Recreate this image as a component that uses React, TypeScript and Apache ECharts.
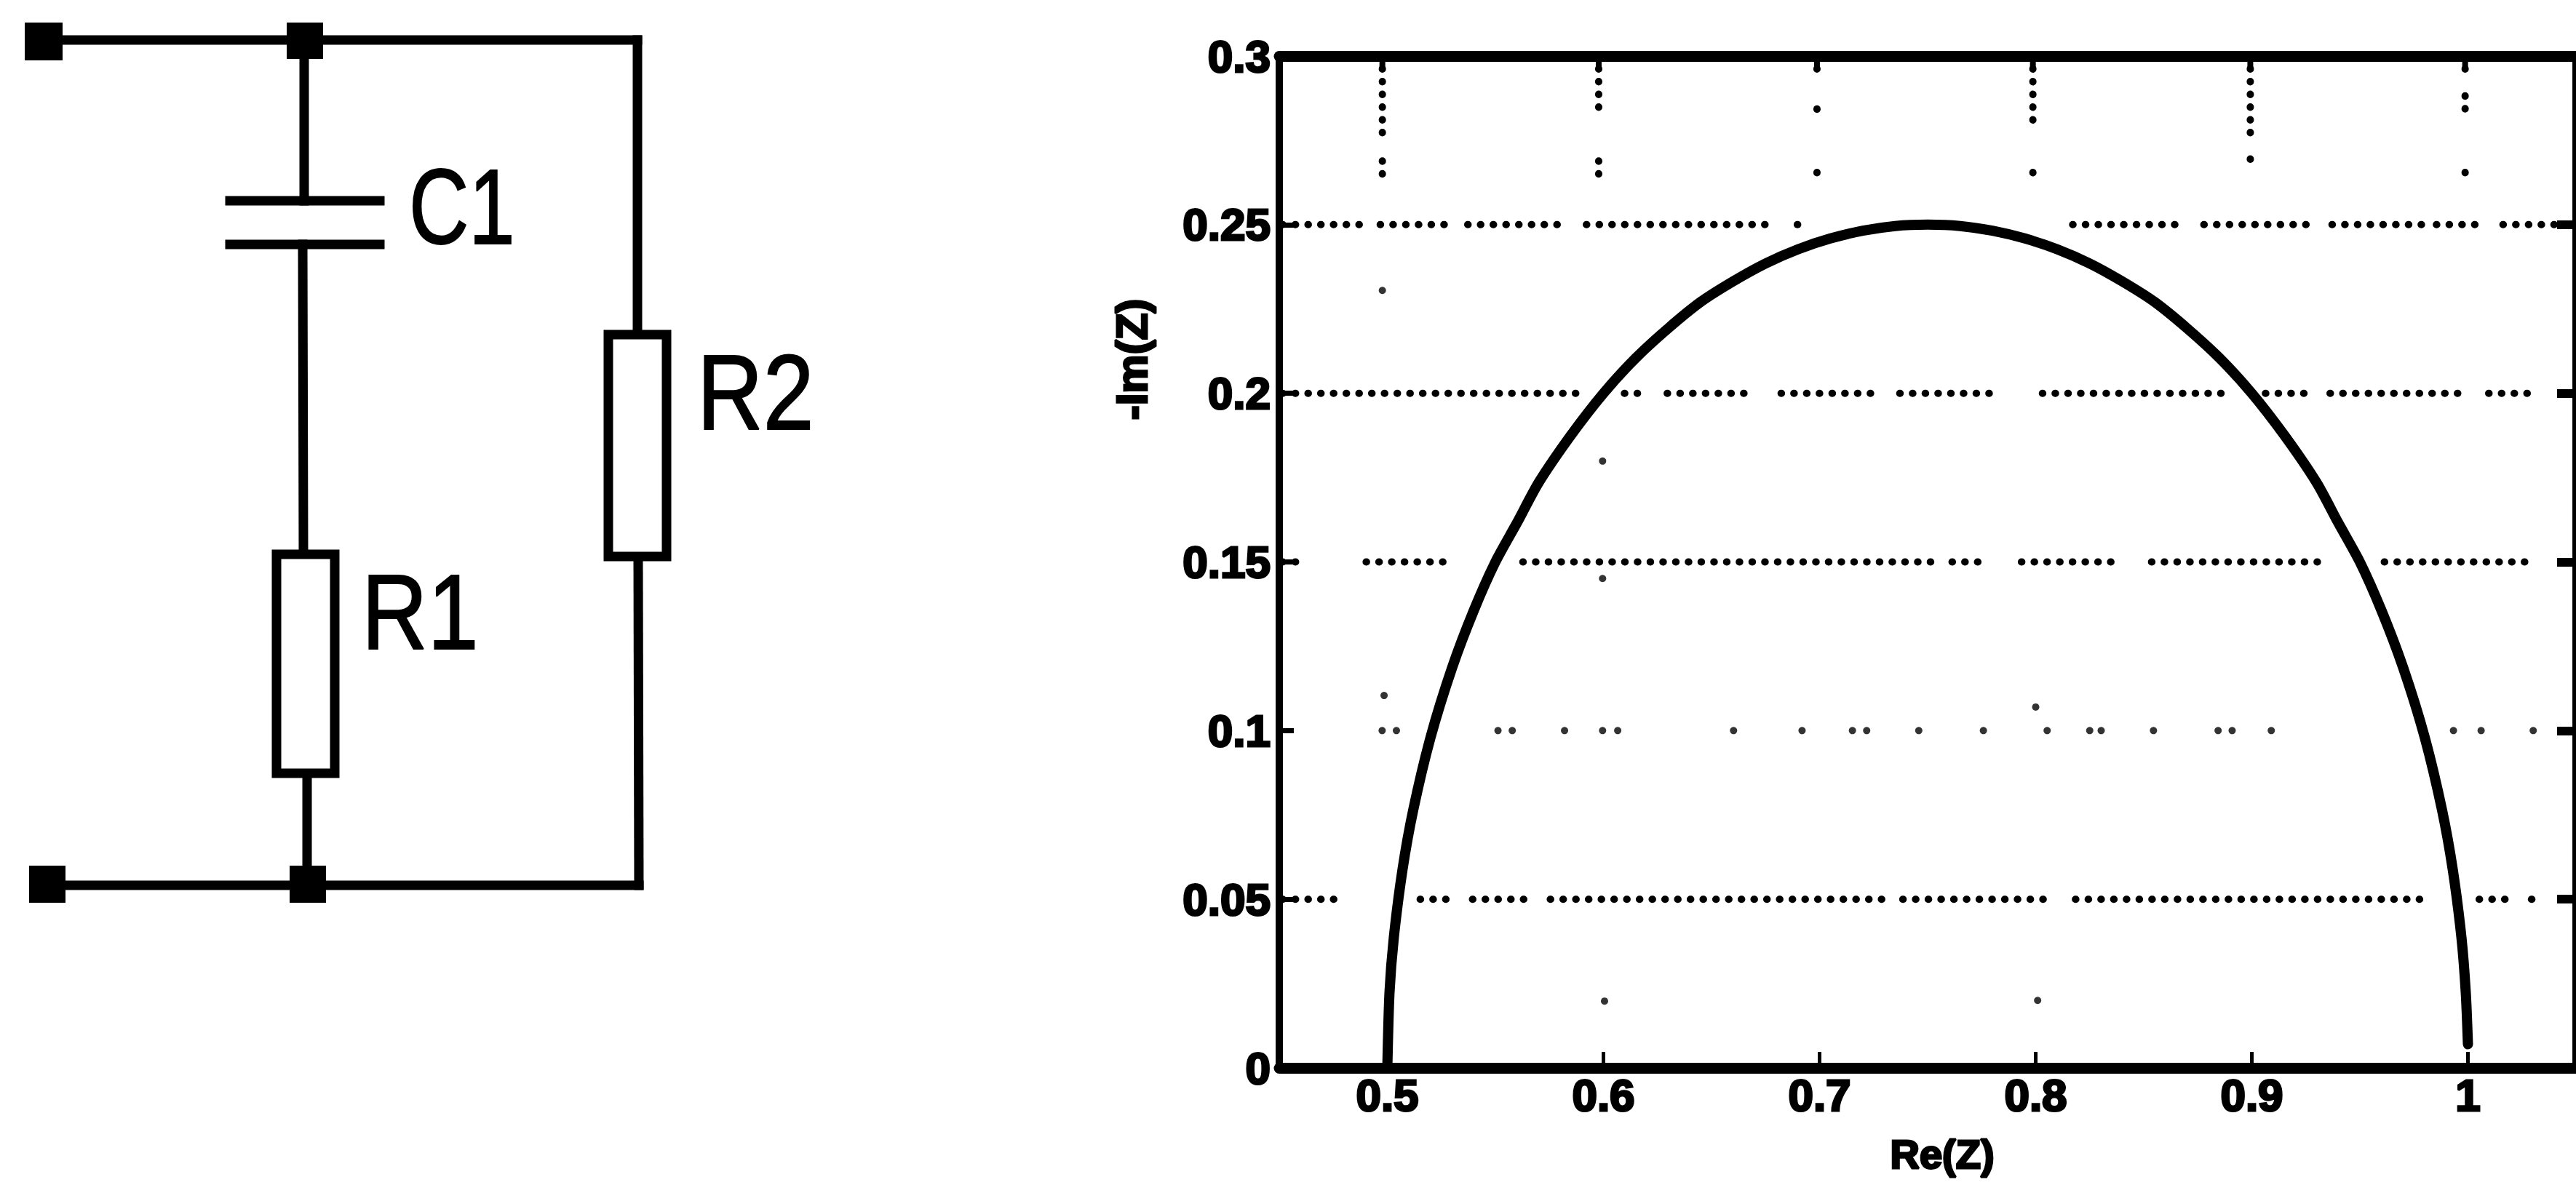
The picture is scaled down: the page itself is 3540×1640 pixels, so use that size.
import React, { useEffect, useRef } from "react";
import * as echarts from "echarts";

const reZ = [0.5, 0.501, 0.503, 0.507, 0.512, 0.52, 0.53, 0.54, 0.55, 0.56, 0.57, 0.585, 0.6, 0.615, 0.63, 0.645, 0.66, 0.675, 0.69, 0.705, 0.72, 0.735, 0.75, 0.765, 0.78, 0.795, 0.81, 0.825, 0.84, 0.855, 0.87, 0.885, 0.9, 0.915, 0.93, 0.94, 0.95, 0.96, 0.97, 0.98, 0.988, 0.993, 0.997, 0.999, 1.0];
const imZ = [0, 0.0223, 0.0386, 0.0587, 0.0765, 0.098, 0.1187, 0.1356, 0.15, 0.1616, 0.1735, 0.1876, 0.2, 0.2105, 0.2193, 0.2271, 0.2332, 0.2385, 0.2427, 0.2459, 0.2482, 0.2496, 0.25, 0.2496, 0.2482, 0.2459, 0.2427, 0.2385, 0.2332, 0.2271, 0.2193, 0.2105, 0.2, 0.1876, 0.1735, 0.1616, 0.15, 0.1356, 0.1187, 0.098, 0.0765, 0.0587, 0.0386, 0.0223, 0.007];

const reTicks = [0.5, 0.6, 0.7, 0.8, 0.9, 1];

const hDots025 = [[0.4515, 0.488], [0.4967, 0.5306], [0.5372, 0.5833], [0.5921, 0.68], [0.6897, 0.6932], [0.8171, 0.869], [0.8778, 0.9283], [0.9371, 0.9788], [0.9854, 1.0074], [1.0162, 1.046]];
const hDots020 = [[0.4515, 0.5899], [0.6097, 0.6207], [0.6295, 0.669], [0.6822, 0.7283], [0.7371, 0.7833], [0.8031, 0.8865], [0.9063, 0.9283], [0.9362, 1.0008], [1.0096, 1.0316]];
const hDots015 = [[0.4515, 0.4625], [0.4902, 0.5293], [0.5627, 0.7525], [0.7613, 0.778], [0.7934, 0.8369], [0.8536, 0.9349], [0.9613, 1.0316]];
const hDots005 = [[0.4515, 0.4757], [0.5152, 0.5306], [0.5394, 0.5679], [0.5754, 0.7305], [0.7385, 0.8074], [0.8184, 0.9788], [1.0052, 1.0206], [1.0294, 1.0338]];
const hDots010X = [0.4976, 0.5042, 0.5512, 0.5578, 0.582, 0.5996, 0.6066, 0.6602, 0.6919, 0.7152, 0.7218, 0.7459, 0.7758, 0.8053, 0.825, 0.8303, 0.8545, 0.8844, 0.8909, 0.909, 0.9933, 1.0061, 1.0302];

const vDotsX = [0.4977, 0.5978, 0.6988, 0.7987, 0.8993, 0.9987];
const vDotsSpans = [
  [[0.3, 0.2747], [0.2689, 0.2634]],
  [[0.3, 0.2832], [0.2689, 0.2634]],
  [[0.3, 0.295], [0.2843, 0.283], [0.2655, 0.2635]],
  [[0.3, 0.2786], [0.2655, 0.2635]],
  [[0.3, 0.2752], [0.2695, 0.2675]],
  [[0.3, 0.295], [0.2882, 0.2825], [0.2655, 0.2635]],
];
const specks = [[0.4977, 0.2305], [0.4985, 0.1104], [0.5996, 0.1799], [0.5996, 0.1451], [0.6005, 0.0198], [0.8, 0.107], [0.8009, 0.02]];

const FONT = "Liberation Sans";
const BLACK = "#000";

function dotted(data: number[][], width = 10) {
  return {
    type: "line", data, symbol: "none", silent: true, z: 2,
    lineStyle: { color: BLACK, width, cap: "round", type: [0.5, 17] },
  };
}
const hLine = (spans: number[][], y: number) => spans.map((s) => dotted([[s[0], y], [s[1], y]]));

function wire(x1: number, y1: number, x2: number, y2: number) {
  return { type: "line", shape: { x1, y1, x2, y2 }, style: { stroke: BLACK, lineWidth: 13, lineCap: "square" } };
}
function box(x: number, y: number, width: number, height: number) {
  return { type: "rect", shape: { x, y, width, height }, style: { fill: "#fff", stroke: BLACK, lineWidth: 13 } };
}
function node(x: number, y: number, width: number, height: number) {
  return { type: "rect", shape: { x, y, width, height }, style: { fill: BLACK } };
}
function label(text: string, x: number, y: number, scaleX = 0.86) {
  return {
    type: "text", x, y, scaleX,
    style: { text, fill: BLACK, font: `400 146px "${FONT}"`, textAlign: "left", textVerticalAlign: "middle", stroke: BLACK, lineWidth: 2 },
  };
}
function axisText(text: string, x: number, y: number, rotation = 0, size = 56) {
  return {
    type: "text", x, y, rotation,
    style: { text, fill: BLACK, font: `700 ${size}px "${FONT}"`, textAlign: "center", textVerticalAlign: "middle", stroke: BLACK, lineWidth: 3 },
  };
}

export default function App() {
  const ref = useRef<HTMLDivElement>(null);
  useEffect(() => {
    document.body.style.margin = "0";
    const chart = echarts.init(ref.current!, undefined, { renderer: "svg" });
    const xBase = {
      type: "value", min: 0.45, max: 1.05, splitLine: { show: false },
      axisLine: { onZero: false, lineStyle: { color: BLACK, width: 15 } },
    };
    const yBase = {
      type: "value", min: 0, max: 0.3, interval: 0.05, splitLine: { show: false },
      axisLine: { onZero: false, show: true, lineStyle: { color: BLACK, width: 10 } },
    };
    const tickFont = { color: BLACK, fontFamily: FONT, fontWeight: 700, fontSize: 62, textBorderColor: BLACK, textBorderWidth: 3 };
    chart.setOption({
      animation: false,
      backgroundColor: "#fff",
      grid: { left: 1758, top: 77, width: 1794, height: 1391, containLabel: false },
      xAxis: [
        {
          ...xBase, position: "bottom",
          axisTick: { show: true, inside: true, length: 22, customValues: reTicks, lineStyle: { color: BLACK, width: 5 } },
          axisLabel: { ...tickFont, margin: 6, customValues: reTicks, formatter: (v: number) => String(v) },
        },
        {
          ...xBase, position: "top",
          axisTick: { show: false },
          axisLabel: { show: false },
        },
      ],
      yAxis: [
        {
          ...yBase, position: "left",
          axisTick: { show: true, inside: true, length: 20, lineStyle: { color: BLACK, width: 7 } },
          axisLabel: { ...tickFont, margin: 12, formatter: (v: number) => String(Number(v.toFixed(2))) },
        },
        {
          ...yBase, position: "right",
          axisTick: { show: true, inside: true, length: 26, lineStyle: { color: BLACK, width: 12 } },
          axisLabel: { show: false },
        },
      ],
      series: [
        ...hLine(hDots025, 0.25),
        ...hLine(hDots020, 0.2),
        ...hLine(hDots015, 0.15),
        ...hLine(hDots005, 0.05),
        ...vDotsX.flatMap((x, i) => vDotsSpans[i].map((s) => dotted([[x, s[0]], [x, s[1]]]))),
        ...vDotsX.map((x) => ({
          type: "line", data: [[x, 0.3], [x, 0.2955]], symbol: "none", silent: true, z: 3,
          lineStyle: { color: BLACK, width: 8 },
        })),
        {
          type: "scatter", symbolSize: 10, silent: true, z: 2, itemStyle: { color: BLACK },
          data: [...hDots010X.map((x) => [x, 0.1]), ...specks],
        },
        {
          type: "line", name: "Z", symbol: "none", silent: true, z: 5, smooth: 0.25,
          data: reZ.map((x, i) => [x, imZ[i]]),
          lineStyle: { color: BLACK, width: 14, cap: "round", join: "round" },
        },
      ].map((s: any) => ({ ...s, xAxisIndex: 0, yAxisIndex: 0 })),
      graphic: [
        axisText("-Im(Z)", 1555, 494, Math.PI / 2, 60),
        axisText("Re(Z)", 2669, 1586),
        wire(86, 55, 876, 55),
        wire(876, 55, 876, 460),
        wire(877, 771, 878, 1217),
        wire(90, 1217, 878, 1217),
        wire(418, 55, 418, 276),
        wire(416, 336, 417, 756),
        wire(422, 1069, 422, 1217),
        wire(316, 276, 522, 276),
        wire(316, 336, 522, 336),
        box(836, 460, 80, 305),
        box(380, 762, 80, 301),
        node(34, 31, 52, 52),
        node(394, 31, 50, 50),
        node(40, 1190, 50, 51),
        node(398, 1190, 50, 51),
        label("C1", 562, 284, 0.78),
        label("R2", 958, 540),
        label("R1", 497, 842),
      ],
    });
    return () => chart.dispose();
  }, []);
  return <div ref={ref} style={{ position: "fixed", left: 0, top: 0, width: 3540, height: 1640, background: "#fff" }} />;
}
